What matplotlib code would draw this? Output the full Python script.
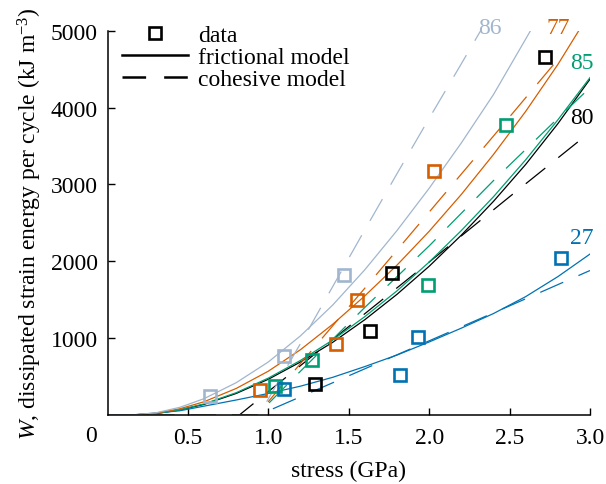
import matplotlib
matplotlib.use('Agg')
from matplotlib import pyplot as plt
from matplotlib.lines import Line2D

# measured data, one list pair per sample
data_86_x = [0.64, 1.10, 1.47]
data_86_y = [250, 770, 1820]
data_77_x = [0.95, 1.42, 1.55, 2.03]
data_77_y = [325, 925, 1495, 3170]
data_85_x = [1.04, 1.27, 1.99, 2.48]
data_85_y = [380, 720, 1690, 3775]
data_80_x = [1.29, 1.63, 1.77, 2.72]
data_80_y = [400, 1090, 1850, 4655]
data_27_x = [1.10, 1.82, 1.93, 2.82]
data_27_y = [335, 520, 1015, 2045]

# frictional model curves
fric_x = [0, 0.15, 0.3, 0.45, 0.6, 0.8, 1.0, 1.2, 1.4, 1.6, 1.8, 2.0,
          2.2, 2.4, 2.6, 2.8, 3.0]
fric_86_x = [0, 0.15, 0.3, 0.45, 0.6, 0.8, 1.0, 1.2, 1.4, 1.6, 1.8, 2.0,
             2.2, 2.4, 2.63]
fric_86_y = [0, 0, 28, 100, 212, 420, 690, 1030, 1430, 1890, 2400, 2950,
             3540, 4170, 5000]
fric_77_x = [0, 0.15, 0.3, 0.45, 0.6, 0.8, 1.0, 1.2, 1.4, 1.6, 1.8, 2.0,
             2.2, 2.4, 2.6, 2.8, 2.93]
fric_77_y = [0, 0, 23, 81, 172, 345, 570, 850, 1180, 1550, 1950, 2390,
             2870, 3390, 3950, 4560, 5000]
fric_85_y = [0, 0, 19, 68, 144, 290, 480, 710, 975, 1280, 1615, 1990,
             2400, 2840, 3320, 3840, 4390]
fric_80_y = [0, 0, 18, 65, 138, 280, 465, 690, 945, 1240, 1570, 1935,
             2340, 2780, 3260, 3790, 4370]
fric_27_y = [0, 0, 25, 55, 115, 195, 280, 375, 490, 630, 780, 950,
             1130, 1320, 1540, 1800, 2094]

# cohesive model curves
coh_86_x = [0, 0.94, 1.0, 1.2, 1.4, 1.6, 1.8, 2.0, 2.2, 2.32]
coh_86_y = [0, 0, 210, 930, 1670, 2410, 3140, 3860, 4570, 5000]
coh_77_x = [0, 0.93, 1.2, 1.6, 2.0, 2.4, 2.83]
coh_77_y = [0, 0, 670, 1650, 2640, 3630, 4700]
coh_85_x = [0, 0.93, 1.2, 1.6, 2.0, 2.4, 2.8, 3.0]
coh_85_y = [0, 0, 570, 1400, 2200, 3050, 3860, 4260]
coh_80_x = [0, 0.82, 1.5, 2.0, 2.5, 3.0]
coh_80_y = [0, 0, 1150, 1990, 2840, 3680]
coh_27_x = [0, 0.94, 1.5, 2.0, 2.5, 3.0]
coh_27_y = [0, 0, 510, 965, 1420, 1880]

x_ticks = [0.5, 1.0, 1.5, 2.0, 2.5, 3.0]
x_ticklabels = ['0.5', '1.0', '1.5', '2.0', '2.5', '3.0']
y_ticks = [1000, 2000, 3000, 4000, 5000]

# label text, position (x, y in data units)
curve_labels = [('86', 2.379, 5046), ('77', 2.801, 5046), ('85', 2.95, 4590),
                ('80', 2.95, 3875), ('27', 2.95, 2315)]

colours = {'86': '#a1b6ce', '77': '#d55e00', '85': '#009e73',
           '80': 'black', '27': '#0072b2'}

FS = 17
DASH = (18, 12)


def setup():
    plt.rcParams['font.family'] = 'serif'
    plt.rcParams['font.serif'] = ['Liberation Serif', 'DejaVu Serif']
    plt.rcParams['mathtext.fontset'] = 'custom'
    plt.rcParams['mathtext.rm'] = 'Liberation Serif'
    plt.rcParams['mathtext.it'] = 'Liberation Serif:italic'
    plt.rcParams['lines.scale_dashes'] = False
    plt.rcParams['font.size'] = FS


def main():
    setup()

    fig = plt.figure(figsize=(6.06, 4.85), dpi=100)
    ax = fig.add_axes([0.1774, 0.1423, 0.7962, 0.7923])

    lw = 0.9
    curves = [
        ('80', fric_x, fric_80_y, coh_80_x, coh_80_y),
        ('27', fric_x, fric_27_y, coh_27_x, coh_27_y),
        ('85', fric_x, fric_85_y, coh_85_x, coh_85_y),
        ('77', fric_77_x, fric_77_y, coh_77_x, coh_77_y),
        ('86', fric_86_x, fric_86_y, coh_86_x, coh_86_y),
    ]
    for name, fx, fy, cx, cy in curves:
        c = colours[name]
        ax.plot(fx, fy, color=c, lw=lw)
        ax.plot(cx, cy, color=c, lw=lw, dashes=DASH)

    points = [
        ('86', data_86_x, data_86_y),
        ('77', data_77_x, data_77_y),
        ('85', data_85_x, data_85_y),
        ('80', data_80_x, data_80_y),
        ('27', data_27_x, data_27_y),
    ]
    for name, px, py in points:
        ax.plot(px, py, ls='none', marker='s', ms=8.5, mew=1.9,
                mfc='none', mec=colours[name], zorder=5)

    for text, tx, ty in curve_labels:
        ax.text(tx, ty, text, color=colours[text], fontsize=FS,
                ha='center', va='center', clip_on=False)

    ax.set_xlim(0, 3.0)
    ax.set_ylim(0, 5000)
    ax.set_xticks(x_ticks)
    ax.set_xticklabels(x_ticklabels)
    ax.set_yticks(y_ticks)
    ax.tick_params(direction='in', length=5, width=1.0, labelsize=FS)
    ax.tick_params(axis='x', pad=9)
    ax.tick_params(axis='y', pad=7)
    for side in ('top', 'right'):
        ax.spines[side].set_visible(False)
    for side in ('left', 'bottom'):
        ax.spines[side].set_linewidth(1.1)

    ax.set_xlabel('stress (GPa)', fontsize=FS, labelpad=8)
    ax.set_ylabel(r'$W$, dissipated strain energy per cycle (kJ m$^{-3}$)',
                  fontsize=FS, labelpad=5)
    fig.text(91 / 606, 1 - 437 / 485, '0', fontsize=FS,
             ha='center', va='center')

    handles = [
        Line2D([], [], ls='none', marker='s', ms=8.5, mew=1.9,
               mfc='none', mec='black'),
        Line2D([], [], color='black', lw=1.8),
        Line2D([], [], color='black', lw=1.8, dashes=(17, 13)),
    ]
    fig.legend(handles, ['data', 'frictional model', 'cohesive model'],
               loc='upper left', bbox_to_anchor=(0.2013, 0.947),
               frameon=False, fontsize=FS, borderpad=0, borderaxespad=0,
               handlelength=2.8, handletextpad=0.42, labelspacing=0.02)

    fig.savefig('out.png', dpi=100)


if __name__ == '__main__':
    main()
